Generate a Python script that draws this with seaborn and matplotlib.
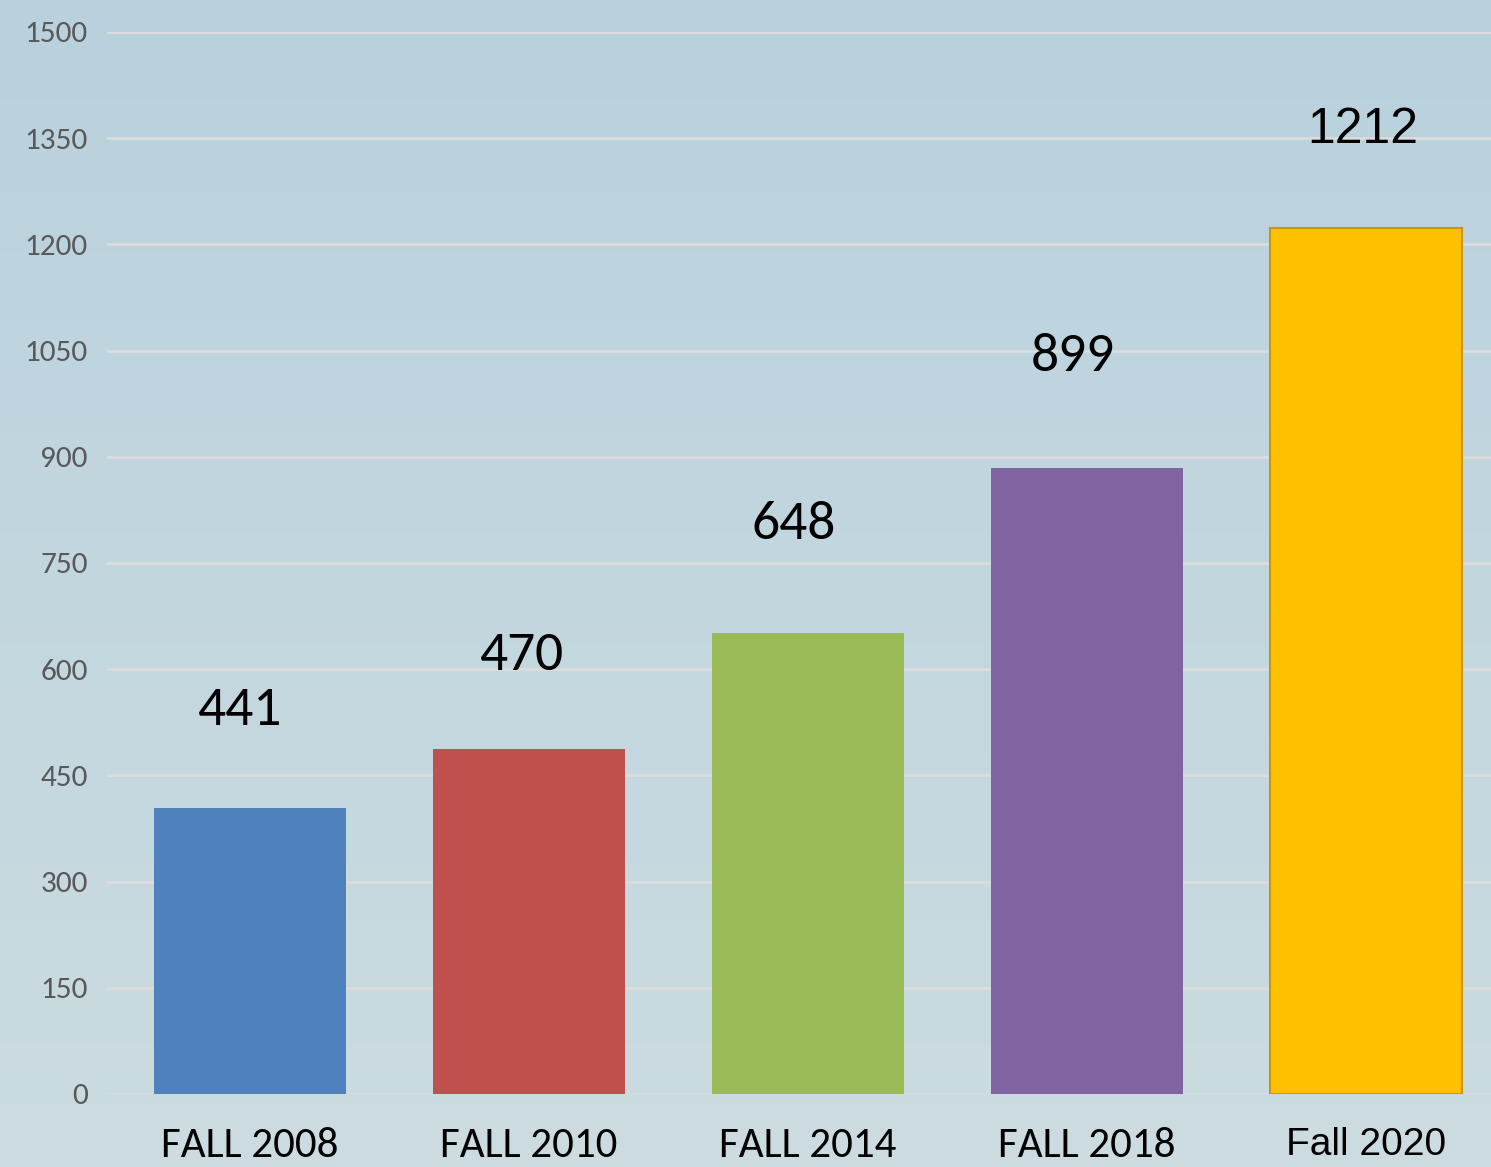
import numpy as np
import pandas as pd
import matplotlib.pyplot as plt
import seaborn as sns

# data
terms = ['FALL 2008', 'FALL 2010', 'FALL 2014', 'FALL 2018', 'Fall 2020']
bar_heights = [404, 487, 651, 884, 1223]
value_labels = ['441', '470', '648', '899', '1212']
bar_colors = ['#4f81bd', '#c0504d', '#9bbb59', '#8064a2', '#ffc000']
yticks = [0, 150, 300, 450, 600, 750, 900, 1050, 1200, 1350, 1500]

df = pd.DataFrame({'term': terms, 'count': bar_heights})

sns.set_style('white')
calibri = ['Carlito', 'Lato', 'DejaVu Sans']
arial = ['Liberation Sans', 'Arimo', 'DejaVu Sans']
plt.rcParams['font.family'] = arial

fig = plt.figure(figsize=(14.91, 11.67), dpi=100)

# gradient background
bg = fig.add_axes([0, 0, 1, 1], zorder=-5)
top = np.array([0.725, 0.820, 0.868])
bot = np.array([0.800, 0.862, 0.878])
t = np.linspace(0, 1, 256)[:, None]
grad = top * (1 - t) + bot * t
bg.imshow(grad[:, None, :].repeat(2, axis=1), aspect='auto', extent=[0, 1, 0, 1])
bg.axis('off')

ax = fig.add_axes([107 / 1491, 0.0626, 1 - 107 / 1491, 0.91])
ax.patch.set_alpha(0)
sns.barplot(data=df, x='term', y='count', hue='term', palette=bar_colors,
            legend=False, width=0.69, saturation=1, linewidth=0, ax=ax, zorder=3)
ax.patches[4].set_edgecolor('#c99700')
ax.patches[4].set_linewidth(1.5)

ax.set_xlim(-0.513, 4.448)
ax.set_ylim(0, 1500)
ax.set_yticks(yticks)
ax.set_yticklabels([str(v) for v in yticks], fontsize=22.5, color='#595959',
                   family=calibri)
ax.yaxis.grid(True, color='#dcdcdc', linewidth=2, zorder=0)
ax.set_axisbelow(True)
ax.tick_params(axis='y', length=0, pad=14)
ax.tick_params(axis='x', length=0, pad=24)
for s in ax.spines.values():
    s.set_visible(False)
ax.set_xlabel('')
ax.set_ylabel('')

for i, lab in enumerate(ax.get_xticklabels()):
    if i < 4:
        lab.set_fontfamily(calibri)
        lab.set_fontsize(31)
    else:
        lab.set_fontsize(28)
    lab.set_color('black')

label_y = [542, 619, 805, 1041, 1362]
label_x = [-0.04, 0.97, 1.95, 2.95, 3.99]
for i, txt in enumerate(value_labels):
    if i < 4:
        ax.text(label_x[i], label_y[i], txt, ha='center', va='center', fontsize=40,
                family=calibri, color='black')
    else:
        ax.text(label_x[i], label_y[i], txt, ha='center', va='center', fontsize=36,
                color='black')

fig.savefig('out.png', dpi=100)
